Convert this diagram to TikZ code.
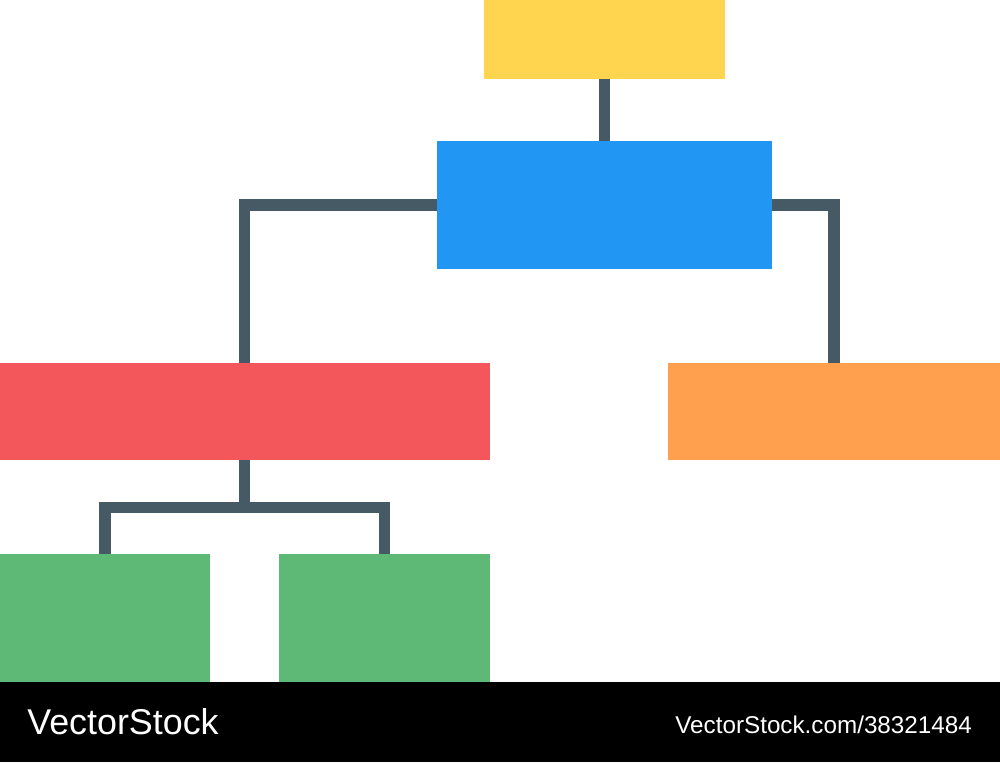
\documentclass[tikz,border=0pt]{standalone}
\usepackage{fontspec}
\setmainfont{Liberation Sans}
\definecolor{cyellow}{HTML}{FFD54F}
\definecolor{cblue}{HTML}{2196F3}
\definecolor{cred}{HTML}{F4575B}
\definecolor{corange}{HTML}{FFA04F}
\definecolor{cgreen}{HTML}{5DB975}
\definecolor{cline}{HTML}{455A64}
\begin{document}
\begin{tikzpicture}[x=0.02cm,y=-0.02cm,
  box/.style={draw=none,inner sep=0,outer sep=0,anchor=north west},
  link/.style={draw=cline,line width=12*0.567pt,line cap=butt,line join=miter},
  wmtext/.style={text=white,inner sep=0,anchor=base west}]
\useasboundingbox (0,0) rectangle (1000,762);
\fill[white] (0,0) rectangle (1000,762);
% boxes
\node[box,fill=cyellow,minimum width=241*0.02cm,minimum height=79*0.02cm] (top) at (484,0) {};
\node[box,fill=cblue,minimum width=335*0.02cm,minimum height=128*0.02cm] (mid) at (437,141) {};
\node[box,fill=cred,minimum width=490*0.02cm,minimum height=97*0.02cm] (left) at (0,363) {};
\node[box,fill=corange,minimum width=332*0.02cm,minimum height=97*0.02cm] (right) at (668,363) {};
\node[box,fill=cgreen,minimum width=210*0.02cm,minimum height=128*0.02cm] (g1) at (0,554) {};
\node[box,fill=cgreen,minimum width=211*0.02cm,minimum height=128*0.02cm] (g2) at (279,554) {};
% connectors
\coordinate (tj) at (604.5,100);
\coordinate (lj) at (244.5,205);
\coordinate (rj) at (834,205);
\coordinate (bj) at (244.5,507.5);
\coordinate (bl) at (105,507.5);
\coordinate (br) at (384.5,507.5);
\draw[link] (top.south -| tj) -- (mid.north -| tj);
\draw[link] (mid.west |- lj) -- (lj) -- (left.north -| lj);
\draw[link] (mid.east |- rj) -- (rj) -- (right.north -| rj);
\draw[link] (left.south -| bj) -- (bj);
\draw[link] (bl |- g1.north) -- (bl) -- (br) -- (br |- g2.north);
% footer
\fill[black] (0,682) rectangle (1000,762);
\node[wmtext,font=\fontsize{20.4pt}{24pt}\selectfont] (wm1) at (27,734) {VectorStock};
\node[wmtext,font=\fontsize{13.8pt}{16pt}\selectfont] (wm2) at (675,733) {VectorStock.com/38321484};
\end{tikzpicture}
\end{document}
